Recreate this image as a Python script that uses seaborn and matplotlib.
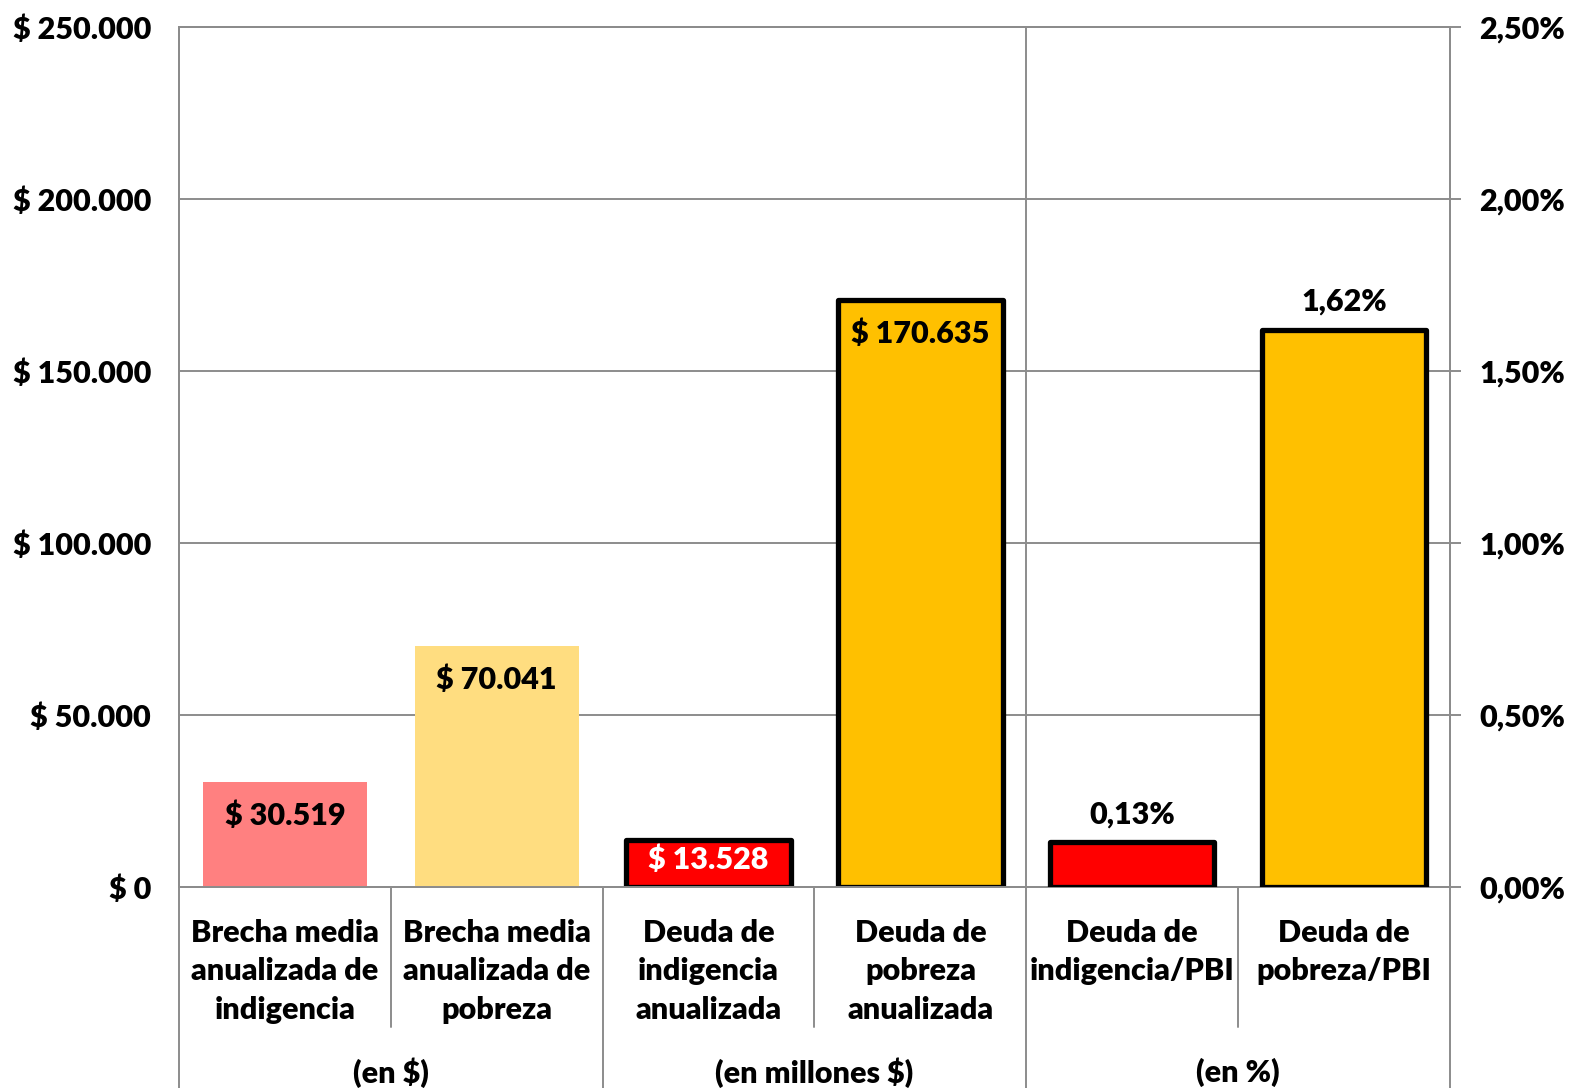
import matplotlib
matplotlib.use('Agg')
import matplotlib.pyplot as plt
import matplotlib.transforms as mtransforms
from matplotlib.ticker import FuncFormatter
import seaborn as sns
import pandas as pd

# data
categories = [
    "Brecha media\nanualizada de\nindigencia",
    "Brecha media\nanualizada de\npobreza",
    "Deuda de\nindigencia\nanualizada",
    "Deuda de\npobreza\nanualizada",
    "Deuda de\nindigencia/PBI",
    "Deuda de\npobreza/PBI",
]
money_cats = categories[:4]
money_values = [30519, 70041, 13528, 170635]
pct_cats = categories[4:]
pct_values = [0.13, 1.62]
groups = ["(en $)", "(en millones $)", "(en %)"]
bar_colors = ["#FF8080", "#FFDD80", "#FF0000", "#FFC000", "#FF0000", "#FFC000"]
outlined = [False, False, True, True, True, True]

sns.set_style("white")
W = 'heavy'
plt.rcParams['font.family'] = ['Lato', 'DejaVu Sans']
plt.rcParams['font.weight'] = W
plt.rcParams['text.color'] = 'black'
plt.rcParams['xtick.color'] = 'black'
plt.rcParams['ytick.color'] = 'black'

GRID = "#8C8C8C"
FS = 22

fig = plt.figure(figsize=(15.69, 10.88), dpi=100)
ax = fig.add_axes([179 / 1569, 1 - 887 / 1088, (1450 - 179) / 1569, (887 - 27) / 1088])
ax2 = ax.twinx()

palette = dict(zip(categories, bar_colors))
df_money = pd.DataFrame({"cat": money_cats, "val": money_values})
df_pct = pd.DataFrame({"cat": pct_cats, "val": pct_values})

sns.barplot(data=df_money, x="cat", y="val", hue="cat", order=categories,
            hue_order=categories, palette=palette, width=0.775, legend=False,
            saturation=1, ax=ax, zorder=3)
sns.barplot(data=df_pct, x="cat", y="val", hue="cat", order=categories,
            hue_order=categories, palette=palette, width=0.775, legend=False,
            saturation=1, ax=ax2, zorder=3)

for a in (ax, ax2):
    for p in a.patches:
        idx = int(round(p.get_x() + p.get_width() / 2))
        if outlined[idx]:
            p.set_edgecolor("black")
            p.set_linewidth(3.8)
            p.set_joinstyle("round")
        else:
            p.set_linewidth(0)

ax.set_xlim(-0.5, 5.5)
ax.set_ylim(0, 250000)
ax2.set_ylim(0, 2.5)
ax.set_yticks(range(0, 250001, 50000))
ax2.set_yticks([0, 0.5, 1.0, 1.5, 2.0, 2.5])

ax.yaxis.set_major_formatter(FuncFormatter(lambda v, _: "$ " + f"{int(v):,}".replace(",", ".")))
ax2.yaxis.set_major_formatter(FuncFormatter(lambda v, _: f"{v:.2f}%".replace(".", ",")))

ax.set_xticks(range(6))
ax.set_xticklabels(categories, fontsize=FS, fontweight=W, linespacing=1.45)
ax.tick_params(axis='x', length=0, pad=23)
ax.tick_params(axis='y', length=0, pad=20, labelsize=FS)
ax2.tick_params(axis='y', length=8, width=1.4, color=GRID, pad=13, labelsize=FS)
for lab in ax.get_yticklabels() + ax2.get_yticklabels():
    lab.set_fontweight(W)

ax.set_xlabel("")
ax.set_ylabel("")
ax2.set_ylabel("")
ax.grid(axis='y', color=GRID, linewidth=1.4, zorder=0)
ax.set_axisbelow(True)
ax2.grid(False)
for a in (ax, ax2):
    for s in a.spines.values():
        s.set_color(GRID)
        s.set_linewidth(1.4)

# vertical line at the boundary before the % group
ax.axvline(3.5, color=GRID, linewidth=1.4, zorder=1)

# separators in the category area
trans = mtransforms.blended_transform_factory(ax.transData, ax.transAxes)
for xb in [0.5, 2.5, 4.5]:
    ax.plot([xb, xb], [0, -0.163], color=GRID, linewidth=1.4, transform=trans, clip_on=False)
for xb in [-0.5, 1.5, 3.5, 5.5]:
    ax.plot([xb, xb], [0, -0.24], color=GRID, linewidth=1.4, transform=trans, clip_on=False)
for i, g in enumerate(groups):
    ax.text(2 * i + 0.5, -0.216, g, transform=trans, ha='center', va='center',
            fontsize=FS, fontweight=W)

# value labels
money_label_offsets = [-24, -24, -14, -24]
for i, v in enumerate(money_values):
    color = "white" if i == 2 else "black"
    ax.annotate("$ " + f"{v:,}".replace(",", "."), (i, v), xytext=(0, money_label_offsets[i]),
                textcoords='offset points', ha='center', va='center',
                fontsize=FS, fontweight=W, color=color, zorder=5)
for j, v in enumerate(pct_values):
    ax2.annotate(f"{v:.2f}%".replace(".", ","), (4 + j, v), xytext=(0, 20),
                 textcoords='offset points', ha='center', va='center',
                 fontsize=FS, fontweight=W, color="black", zorder=5)

fig.savefig("out.png", dpi=100, facecolor="white")
plt.close(fig)
